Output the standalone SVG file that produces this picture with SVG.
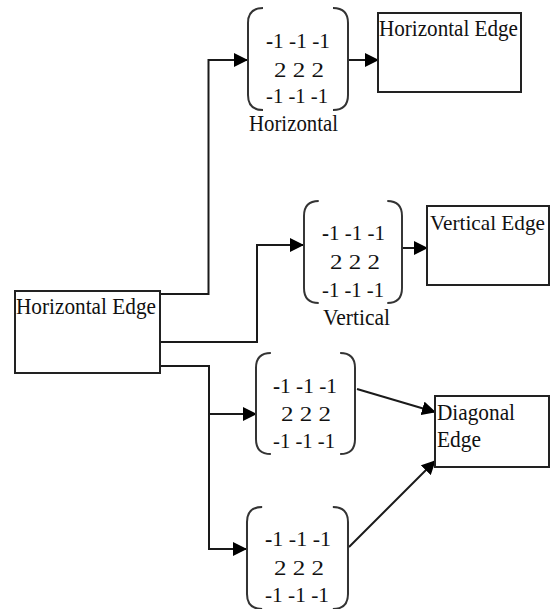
<svg xmlns="http://www.w3.org/2000/svg" width="551" height="609" viewBox="0 0 551 609">
<defs>
<style>
.box{fill:#fff;stroke:#222;stroke-width:2}
.br{fill:none;stroke:#333;stroke-width:2}
.ln{fill:none;stroke:#1a1a1a;stroke-width:2}
.t{font-family:'Liberation Serif','DejaVu Serif','Noto Serif',serif;font-size:24px;fill:#111}
.m{font-family:'Liberation Serif','DejaVu Serif','Noto Serif',serif;font-size:20px;fill:#111}
</style>
<marker id="ah" markerUnits="userSpaceOnUse" markerWidth="14" markerHeight="14" viewBox="0 0 14 14" refX="13" refY="7" orient="auto">
<path d="M0,0 L14,7 L0,14 Z" fill="#000"/>
</marker>
<path id="brk" d="M15,0 Q0,0 0,15 L0,87 Q0,102 15,102 M85,0 Q100,0 100,15 L100,87 Q100,102 85,102"/>
</defs>
<rect width="551" height="609" fill="#fff"/>

<g id="connectors">
<polyline class="ln" points="160,294 208.5,294 208.5,60 247,60" marker-end="url(#ah)"/>
<polyline class="ln" points="160,342 257,342 257,245 303,245" marker-end="url(#ah)"/>
<polyline class="ln" points="160,366 209,366 209,549 246,549" marker-end="url(#ah)"/>
<line class="ln" x1="209" y1="414" x2="256" y2="414" marker-end="url(#ah)"/>
<line class="ln" x1="347" y1="60" x2="378" y2="60" marker-end="url(#ah)"/>
<line class="ln" x1="402" y1="248" x2="427" y2="248" marker-end="url(#ah)"/>
<line class="ln" x1="357" y1="389" x2="435" y2="412" marker-end="url(#ah)"/>
<line class="ln" x1="349" y1="547" x2="435" y2="461" marker-end="url(#ah)"/>
</g>

<g id="source-box">
<rect class="box" x="15" y="291" width="145" height="82"/>
<text class="t" x="16" y="314" textLength="140" lengthAdjust="spacingAndGlyphs">Horizontal Edge</text>
</g>

<g id="matrix-horizontal">
<use href="#brk" class="br" transform="translate(248,8)"/>
<text class="m" x="266" y="48" textLength="64" lengthAdjust="spacingAndGlyphs"><tspan font-weight="bold">-</tspan>1 -1 -1</text>
<text class="m" x="274" y="77" textLength="50" lengthAdjust="spacingAndGlyphs">2 2 2</text>
<text class="m" x="266" y="103" textLength="62" lengthAdjust="spacingAndGlyphs">-1 -1 -1</text>
<text class="t" x="249" y="131" textLength="89" lengthAdjust="spacingAndGlyphs">Horizontal</text>
</g>

<g id="out-horizontal">
<rect class="box" x="378" y="13" width="143" height="79"/>
<text class="t" x="379" y="36" textLength="139" lengthAdjust="spacingAndGlyphs">Horizontal Edge</text>
</g>

<g id="matrix-vertical">
<use href="#brk" class="br" transform="translate(304,201) scale(0.98,1)"/>
<text class="m" x="322" y="240" textLength="63" lengthAdjust="spacingAndGlyphs"><tspan font-weight="bold">-</tspan>1 -1 -1</text>
<text class="m" x="330" y="269" textLength="50" lengthAdjust="spacingAndGlyphs">2 2 2</text>
<text class="m" x="322" y="297" textLength="62" lengthAdjust="spacingAndGlyphs">-1 -1 -1</text>
<text class="t" x="323" y="325" textLength="67" lengthAdjust="spacingAndGlyphs">Vertical</text>
</g>

<g id="out-vertical">
<rect class="box" x="427" y="206" width="122" height="79"/>
<text class="t" style="font-size:21px" x="430" y="230" textLength="115" lengthAdjust="spacingAndGlyphs">Vertical Edge</text>
</g>

<g id="matrix-diag1">
<use href="#brk" class="br" transform="translate(256,353) scale(0.99,0.99)"/>
<text class="m" x="273" y="393" textLength="64" lengthAdjust="spacingAndGlyphs"><tspan font-weight="bold">-</tspan>1 -1 -1</text>
<text class="m" x="281" y="421" textLength="50" lengthAdjust="spacingAndGlyphs">2 2 2</text>
<text class="m" x="273" y="448" textLength="62" lengthAdjust="spacingAndGlyphs">-1 -1 -1</text>
</g>

<g id="matrix-diag2">
<use href="#brk" class="br" transform="translate(247,507) scale(1.01,1)"/>
<text class="m" x="265" y="546" textLength="66" lengthAdjust="spacingAndGlyphs"><tspan font-weight="bold">-</tspan>1 -1 -1</text>
<text class="m" x="274" y="575" textLength="50" lengthAdjust="spacingAndGlyphs">2 2 2</text>
<text class="m" x="265" y="602" textLength="64" lengthAdjust="spacingAndGlyphs">-1 -1 -1</text>
</g>

<g id="out-diagonal">
<rect class="box" x="435" y="396" width="114" height="71"/>
<text class="t" x="437" y="420" textLength="78" lengthAdjust="spacingAndGlyphs">Diagonal</text>
<text class="t" x="437" y="447" textLength="44" lengthAdjust="spacingAndGlyphs">Edge</text>
</g>
</svg>
